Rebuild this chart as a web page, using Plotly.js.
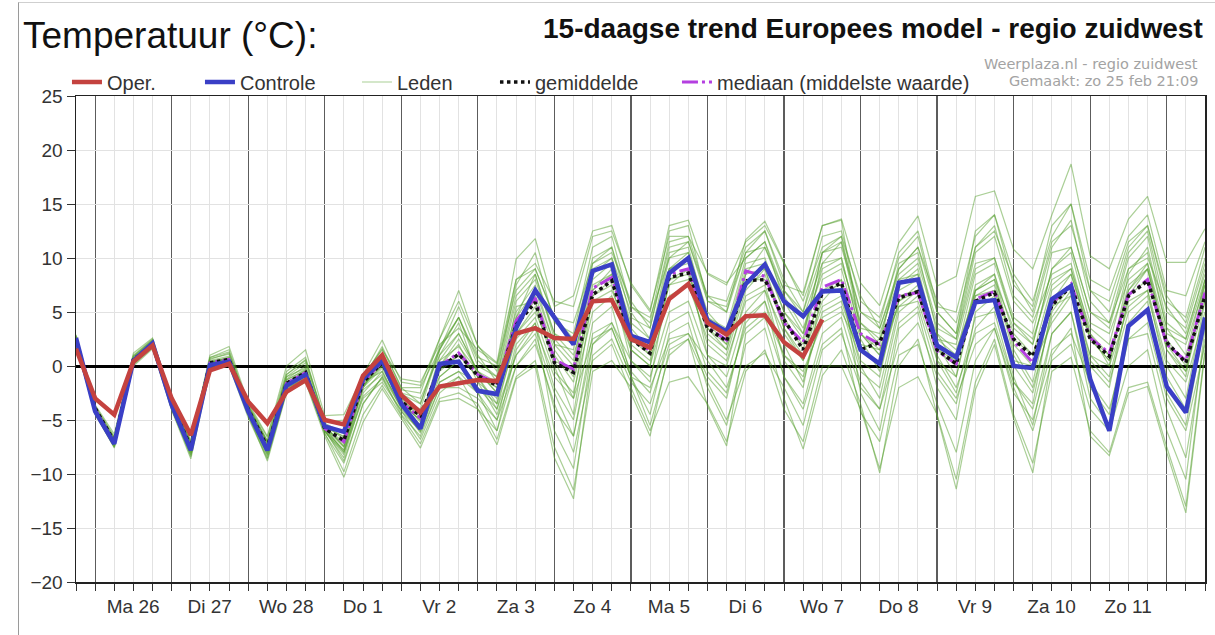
<!DOCTYPE html>
<html>
<head>
<meta charset="utf-8">
<script src="https://cdn.plot.ly/plotly-3.0.1.min.js"></script>
<style>
  body { margin: 0; background: #fff; }
  #chart { width: 1215px; height: 635px; }
  #kader { position: absolute; left: 18px; top: 2px; width: 1197px; height: 633px;
           border-left: 1px solid #9a9a9a; border-top: 1px solid #cfcfcf; pointer-events: none; }
</style>
</head>
<body>
<div id="chart"></div>
<div id="kader"></div>
<script>
// 15-daagse trend, run zo 25 feb 2018, waarden per 6 uur vanaf 25 feb 18:00
var start = "2018-02-25 18:00";
var eind = "2018-03-12 12:00";
var stap = 6 * 3600 * 1000; // 6 uur in ms

// dagscheidingen (00:00) met het label van die dag
var dagGrenzen = ["2018-02-26", "2018-02-27", "2018-02-28", "2018-03-01", "2018-03-02",
                  "2018-03-03", "2018-03-04", "2018-03-05", "2018-03-06", "2018-03-07",
                  "2018-03-08", "2018-03-09", "2018-03-10", "2018-03-11", "2018-03-12"];
var dagLabels = ["Ma 26", "Di 27", "Wo 28", "Do 1", "Vr 2", "Za 3", "Zo 4",
                 "Ma 5", "Di 6", "Wo 7", "Do 8", "Vr 9", "Za 10", "Zo 11", ""];

// operationele run (loopt tot wo 7 12:00)
var oper = [1.6, -3.0,-4.5,0.4,1.9, -3.0,-6.4,-0.4,0.2, -3.3,-5.3,-2.4,-1.3,
            -5.0,-5.4,-0.9,1.0, -2.7,-4.3,-1.9,-1.6, -1.3,-1.4,3.0,3.5, 2.6,2.5,6.0,6.1,
            2.5,1.7,6.2,7.6, 4.0,2.9,4.6,4.7, 2.2,0.9,4.3];

var controle = [2.6, -4.2,-7.2,0.5,2.1, -3.6,-7.8,0.1,0.4, -4.2,-7.8,-1.8,-0.8,
                -5.6,-6.1,-1.2,0.5, -3.5,-5.8,0.2,0.4, -2.3,-2.6,3.5,7.0, 4.5,2.0,8.8,9.4,
                2.8,2.2,8.6,10.0, 4.2,3.2,7.6,9.4, 6.0,4.6,6.9,7.0, 1.5,0.2,7.7,8.0,
                1.9,0.8,5.9,6.1, 0.0,-0.2,6.2,7.4, -1.2,-6.0,3.7,5.2, -1.9,-4.3,4.5];

var gemiddelde = [2.3, -3.9,-7.0,0.6,2.0, -3.5,-7.5,0.3,0.6, -4.0,-7.5,-1.6,-0.6,
                  -5.8,-6.9,-1.5,0.3, -3.3,-4.6,-0.2,1.1, -0.9,-1.8,3.8,5.9, 0.3,-0.6,6.6,7.9,
                  2.5,1.2,8.2,8.6, 3.5,2.3,7.9,8.0, 4.3,1.5,6.8,7.7, 1.5,2.2,6.3,6.9,
                  1.5,0.2,6.0,6.8, 2.5,0.9,5.6,7.4, 2.5,0.9,6.5,7.9, 2.2,0.3,6.5];

var mediaan = [2.4, -4.0,-7.1,0.5,2.1, -3.6,-7.6,0.3,0.6, -4.1,-7.6,-1.6,-0.6,
               -5.8,-7.0,-1.5,0.4, -3.4,-4.8,0.0,1.2, -0.8,-1.6,4.2,6.3, 0.6,-0.3,7.2,8.2,
               2.7,1.4,8.5,9.0, 3.6,2.4,8.8,8.3, 4.0,2.2,7.3,8.0, 3.0,2.0,6.5,6.8,
               1.4,0.2,6.2,6.9, 2.3,0.3,5.8,7.6, 2.6,1.2,6.6,8.0, 2.0,0.5,6.8];

// ensembleleden (geschat uit de bundel)
var leden = [
  [2.4, -3.8,-6.6,0.9,2.4, -3.2,-7.0,0.6,1.2, -3.7,-7.0,-0.8,0.6, -5.0,-5.5,-1.2,1.8, -2.0,-3.5,1.5,4.5, 0.5,-1.0,7.5,10.5, 4.0,3.0,11.0,12.0, 5.5,4.0,12.5,13.0, 6.0,5.5,10.5,12.5, 8.0,5.0,12.0,12.5, 6.0,4.5,10.0,12.0, 5.0,3.0,12.5,14.0, 8.5,6.0,12.0,15.0, 7.0,5.0,11.0,13.0, 6.5,4.0,10.0],
  [2.2, -4.4,-7.6,0.2,1.8, -3.9,-8.4,-0.3,0.2, -4.6,-8.5,-2.3,-1.2, -6.2,-9.8,-4.5,-1.8, -4.6,-7.2,-3.0,-2.5, -3.5,-6.8,-1.0,0.5, -7.5,-11.5,-0.5,0.5, -2.0,-6.0,-1.5,-1.0, -3.5,-7.0,-0.5,1.5, -4.0,-7.0,0.0,0.0, -4.0,-9.5,-2.0,-1.0, -4.5,-10.5,-1.5,2.5, -4.5,-9.0,-0.5,0.8, -6.0,-8.0,-2.0,-1.5, -7.5,-13.0,1.5],
  [2.3, -3.9,-7.0,0.6,2.0, -3.5,-7.5,0.3,0.7, -4.0,-7.4,-1.5,-0.5, -5.8,-7.0,-1.6,0.2, -3.2,-4.5,-0.3,1.0, -1.0,-2.0,4.0,6.0, 0.5,-0.5,6.5,8.0, 2.5,1.0,8.0,8.5, 3.5,2.0,8.0,8.0, 4.5,1.5,7.0,7.5, 1.5,2.5,6.5,7.0, 1.5,0.5,6.0,7.0, 2.5,1.0,5.5,7.5, 2.5,1.0,6.5,8.0, 2.0,0.5,6.5],
  [2.8, -4.0,-6.8,1.0,2.5, -3.3,-7.2,0.8,1.5, -3.6,-6.6,-0.5,0.8, -5.2,-5.0,-0.8,2.4, -1.5,-1.8,2.5,7.0, 1.8,0.3,9.9,11.8, 5.5,6.5,12.5,13.0, 7.5,5.0,13.0,13.5, 8.5,7.5,11.5,13.0, 9.5,6.5,13.0,13.5, 3.0,1.0,8.0,9.5, 3.5,2.5,9.5,10.0, 4.0,2.0,9.0,11.0, 5.0,3.5,10.0,12.0, 4.0,2.5,9.0],
  [2.5, -4.1,-7.1,0.5,2.2, -3.6,-7.7,0.2,0.5, -4.2,-7.9,-1.9,-0.6, -5.7,-6.5,-1.0,1.0, -2.5,-3.0,1.0,3.0, -0.5,-1.5,5.0,7.5, 2.0,1.5,9.5,11.0, 4.5,3.5,11.5,12.0, 6.5,6.0,11.0,12.5, 7.5,6.8,13.0,13.6, 7.7,5.6,11.4,13.9, 7.4,8.3,15.7,16.2, 10.8,9.0,14.0,18.7, 10.2,9.0,13.6,15.7, 9.6,9.6,12.7],
  [2.1, -4.3,-7.3,0.3,1.9, -3.8,-8.0,-0.1,0.3, -4.4,-8.2,-2.1,-1.0, -6.0,-8.5,-2.5,-0.5, -4.0,-6.0,-1.5,-0.5, -2.5,-5.0,2.0,4.0, -2.0,-5.0,4.0,5.5, -1.0,-4.5,3.0,4.0, -2.0,-5.5,2.0,3.5, -3.0,-7.7,-0.9,1.5, -3.5,-9.9,0.0,2.5, -4.6,-11.4,-2.2,2.0, -4.9,-9.9,1.0,3.5, -6.5,-8.3,-2.5,-1.9, -8.0,-13.6,1.2],
  [2.7, -3.7,-6.5,0.8,2.3, -3.4,-7.3,0.5,0.9, -3.8,-7.0,-1.2,0.0, -5.5,-7.5,-2.0,0.8, -3.0,-4.0,1.5,5.5, 1.0,-1.5,6.0,8.0, 3.0,1.0,7.0,9.0, 1.5,0.0,9.0,10.5, 5.0,3.0,8.5,11.0, 6.5,3.5,8.5,9.5, 4.0,2.0,9.5,10.5, 3.0,0.0,7.5,8.5, 1.5,-1.5,6.0,8.5, 3.0,0.0,8.5,11.0, 3.5,1.0,8.0],
  [2.0, -4.5,-7.5,0.0,1.6, -4.0,-8.2,0.0,0.2, -4.5,-8.8,-2.5,-1.5, -6.5,-10.3,-5.2,-2.1, -4.9,-7.6,-3.3,-3.0, -4.0,-7.3,-1.2,0.0, -8.5,-12.3,1.0,2.5, -1.5,-3.5,2.0,3.0, -1.0,-3.0,4.5,6.0, 1.0,-1.0,4.5,5.5, -0.5,-2.0,5.5,6.0, 0.5,-2.5,4.5,5.0, -1.5,-4.0,3.0,5.0, -3.0,-5.5,2.5,3.0, -4.0,-8.5,2.5],
  [2.4, -3.9,-6.9,0.7,2.1, -3.4,-7.6,0.2,0.6, -3.9,-7.2,-1.0,-0.2, -5.4,-6.8,-1.8,0.0, -3.5,-5.0,0.0,2.0, -1.5,-3.0,3.0,5.0, 1.0,-1.5,6.0,7.0, 3.0,2.0,10.0,10.5, 4.5,3.0,9.5,10.0, 5.0,2.5,10.5,11.5, 3.5,3.0,8.0,8.5, 0.5,-1.0,7.0,8.0, 1.0,-2.0,4.5,7.0, 0.0,-2.0,6.5,9.0, 1.5,-0.5,7.5],
  [2.6, -4.2,-7.2,0.4,2.0, -3.7,-7.9,0.2,0.4, -4.3,-7.7,-1.7,-0.9, -5.9,-7.8,-1.5,-0.5, -3.8,-5.5,0.5,1.8, -0.5,-2.5,4.5,8.5, 2.5,0.5,8.5,10.0, 3.5,1.5,7.5,8.0, 2.0,0.5,6.0,7.0, 3.0,0.5,5.5,6.5, 0.0,-3.0,5.0,6.5, 2.5,1.0,7.0,8.0, 3.5,2.0,9.0,10.5, 4.0,3.0,8.0,9.5, 3.0,2.0,7.5],
  [2.9, -3.6,-6.3,1.2,2.6, -3.1,-6.9,1.0,1.8, -3.4,-6.5,0.0,1.5, -4.6,-4.5,-0.9,1.5, -1.2,-1.5,2.0,3.5, 1.5,0.2,8.0,9.5, 6.0,5.5,12.0,12.5, 7.7,5.2,12.0,12.0, 8.6,7.7,10.0,11.5, 7.0,5.0,10.5,11.0, 5.0,3.5,9.0,11.0, 6.0,4.0,11.0,12.5, 8.0,5.0,11.5,13.0, 7.0,6.0,11.5,13.0, 6.0,4.5,11.0],
  [2.3, -4.3,-7.4,0.1,1.7, -4.1,-8.6,-0.4,0.0, -4.8,-8.6,-2.4,-1.4, -6.3,-9.0,-3.5,-1.0, -4.5,-6.5,-2.0,-1.0, -4.0,-6.0,0.0,2.5, -4.0,-6.5,3.0,4.0, 0.5,-1.0,5.0,6.0, 1.0,-1.0,5.0,7.0, 0.5,-2.0,7.0,8.0, -2.5,-6.0,3.5,5.0, -2.0,-5.0,5.0,6.5, -1.0,-5.5,3.0,5.0, -2.0,-4.5,4.0,6.0, -2.5,-5.5,4.0],
  [2.5, -4.0,-7.0,0.5,2.2, -3.5,-7.6,0.4,0.6, -4.1,-7.5,-1.5,-0.7, -5.6,-6.0,-1.2,0.6, -2.8,-4.2,-1.0,0.5, -2.0,-3.5,2.5,4.5, -0.5,-2.5,5.0,6.5, 1.5,0.0,6.5,7.5, 2.5,1.0,7.0,9.0, 3.5,1.0,6.0,8.0, 2.0,1.5,5.5,7.0, 3.0,1.5,6.5,7.0, 0.5,0.0,4.0,6.5, 1.0,0.0,5.5,7.0, 0.5,-1.5,5.0],
  [2.2, -4.1,-7.2,0.6,2.1, -3.6,-7.5,0.3,0.8, -4.0,-7.6,-1.6,-0.4, -5.8,-7.2,-2.2,-0.8, -3.5,-5.8,-1.5,-0.5, -1.5,-4.5,1.0,3.5, -1.0,-3.0,2.5,3.5, -1.0,-2.0,2.5,3.0, 0.5,-2.0,3.5,5.0, 1.0,-0.5,4.0,5.0, 1.5,0.0,6.0,7.0, 2.5,2.0,9.0,10.0, 4.5,3.0,10.5,11.0, 5.0,4.0,9.0,10.0, 5.5,3.0,8.5],
  [2.6, -3.8,-6.8,0.7,2.3, -3.3,-7.1,0.7,1.1, -3.7,-7.1,-1.0,0.3, -5.3,-6.2,-1.0,1.2, -2.2,-2.5,2.5,6.0, 1.9,-0.5,8.0,9.0, 4.5,4.0,9.5,10.5, 6.0,3.5,11.0,11.5, 6.5,5.0,11.7,13.4, 9.6,6.0,11.0,12.0, 6.5,3.5,8.5,10.0, 4.0,2.5,10.5,12.0, 6.0,4.0,8.5,9.5, 3.0,1.0,7.0,9.5, 2.0,-0.5,6.0],
  [2.4, -4.0,-7.1,0.5,2.0, -3.6,-7.7,0.2,0.5, -4.2,-7.8,-1.8,-0.8, -5.7,-8.0,-3.0,-1.5, -4.2,-6.8,-2.5,-1.0, -2.5,-6.0,1.5,4.0, -6.0,-9.5,2.0,3.5, -1.0,-5.5,1.0,2.5, -3.7,-7.4,3.0,4.5, -1.0,-4.0,2.0,3.5, -4.3,-7.0,1.0,2.0, -3.5,-8.0,0.5,3.5, -2.0,-6.0,0.5,2.0, -4.0,-6.0,0.0,1.5, -6.0,-10.5,3.5],
  [2.7, -3.9,-7.0,0.6,2.2, -3.5,-7.4,0.4,0.7, -3.9,-7.3,-1.3,-0.3, -5.6,-7.4,-1.4,0.4, -3.0,-4.8,0.5,3.0, -0.5,-2.0,4.5,7.0, 2.0,0.0,8.0,9.5, 4.0,2.5,9.0,10.0, 4.0,2.0,9.0,9.5, 5.0,3.0,9.0,10.0, 3.0,1.5,7.5,9.0, 2.0,1.0,8.5,9.5, 4.0,2.5,8.0,9.0, 3.5,2.0,9.0,10.5, 3.5,2.5,8.0],
  [2.0, -4.4,-7.5,0.3,1.9, -4.0,-8.3,-0.2,0.3, -4.5,-8.0,-2.0,-1.2, -6.1,-8.0,-2.0,-0.2, -3.5,-5.0,-0.5,1.0, -1.0,-4.0,3.0,5.5, 0.0,-4.5,6.5,7.5, 0.5,-1.5,8.0,9.0, 1.0,0.0,6.5,7.5, 2.0,-1.5,5.0,6.0, 0.5,-1.0,7.0,8.0, 1.0,-2.0,3.0,4.0, -1.5,-3.5,5.5,6.5, 0.5,-1.5,5.0,6.5, 0.0,-3.0,6.0],
  [2.5, -4.1,-7.1,0.4,2.0, -3.6,-7.8,0.1,0.4, -4.2,-7.7,-1.7,-0.7, -5.9,-8.8,-3.5,-1.0, -3.8,-6.2,-2.0,-2.0, -3.0,-5.0,0.0,2.0, -3.5,-8.0,0.5,2.0, -2.5,-6.5,1.5,2.5, -1.5,-5.0,0.0,1.2, -2.0,-5.5,1.5,3.0, -2.0,-4.0,2.0,4.0, -1.0,-3.5,3.5,5.5, 0.0,-2.5,5.0,7.5, 1.0,-1.0,6.0,7.0, -1.0,-4.0,4.0],
  [2.6, -4.0,-6.9,0.6,2.2, -3.6,-7.6,0.4,0.8, -4.0,-7.4,-1.3,-0.4, -5.5,-6.6,-1.3,0.9, -2.6,-3.5,1.8,4.5, 0.8,0.0,7.0,9.0, 4.5,2.5,10.0,11.0, 5.5,4.5,10.0,11.5, 6.0,5.0,10.5,11.0, 7.0,4.5,9.5,11.5, 5.0,4.0,10.5,12.5, 5.5,5.0,12.0,14.0, 7.5,5.5,13.0,15.0, 8.0,7.0,12.0,14.0, 7.0,6.5,11.5],
  [2.3, -4.2,-7.3,0.3,1.8, -3.8,-8.1,0.0,0.2, -4.4,-8.3,-2.2,-1.1, -6.0,-8.2,-2.0,0.5, -3.2,-5.2,1.0,4.0, -1.0,-3.5,5.5,6.0, 0.5,-3.0,7.5,8.5, 2.0,0.5,7.5,9.0, 3.0,1.5,7.5,8.5, 3.5,0.5,8.0,9.0, 2.5,-0.5,6.0,7.5, 2.0,-1.0,6.5,7.5, 2.0,0.0,7.0,8.5, 2.5,0.5,7.5,9.0, 1.5,-1.0,8.0],
  [2.8, -3.8,-6.7,0.9,2.4, -3.3,-7.1,0.8,1.3, -3.6,-6.9,-0.8,0.5, -5.1,-5.5,-1.0,1.6, -2.0,-2.0,1.5,4.5, 0.0,-1.0,6.5,8.5, 3.0,2.0,9.0,10.0, 5.0,2.5,10.5,11.0, 4.5,3.5,10.0,11.5, 6.0,3.0,10.5,12.0, 4.0,2.5,9.0,11.0, 5.0,3.0,11.0,13.0, 6.5,4.5,11.0,13.5, 6.0,4.0,10.5,12.5, 5.0,3.5,9.5],
  [2.1, -4.2,-7.4,0.2,1.8, -3.8,-8.0,0.0,0.3, -4.3,-8.1,-2.0,-1.0, -6.0,-7.8,-2.8,-1.2, -4.2,-6.0,-1.0,0.5, -2.0,-4.0,1.0,3.0, -2.5,-6.5,2.0,4.0, -0.5,-2.5,4.0,5.0, -0.5,-2.5,4.0,6.0, -1.0,-3.5,3.0,4.5, -1.5,-4.0,4.0,5.5, -0.5,-3.0,2.0,3.5, -2.5,-5.0,1.5,3.0, -1.5,-4.0,2.5,4.0, -3.0,-6.0,2.0],
  [2.5, -4.0,-7.0,0.5,2.1, -3.5,-7.5,0.3,0.6, -4.1,-7.6,-1.6,-0.6, -5.8,-7.5,-1.8,0.0, -3.5,-5.5,0.0,2.5, -0.5,-2.5,3.5,6.5, 1.5,-1.0,7.0,8.5, 3.0,1.0,9.0,9.5, 3.5,1.5,8.5,9.0, 4.0,2.0,9.5,10.0, 3.0,1.0,7.5,8.5, 1.5,0.0,7.0,8.5, 3.0,1.0,7.5,9.0, 2.5,0.5,7.0,9.0, 2.5,0.0,7.0]
];

var traces = [];
for (var i = 0; i < leden.length; i++) {
    traces.push({
        y: leden[i], x0: start, dx: stap,
        type: "scatter", mode: "lines",
        name: "Leden", legendgroup: "leden", showlegend: i === 0, legendrank: 3, legendwidth: 93,
        line: {color: "rgba(85,160,45,0.5)", width: 1.2}
    });
}
traces.push({
    y: mediaan, x0: start, dx: stap, type: "scatter", mode: "lines",
    name: "mediaan (middelste waarde)", legendrank: 5,
    line: {color: "#b43fe0", width: 3, dash: "16px,4px,3px,4px"}
});
traces.push({
    y: gemiddelde, x0: start, dx: stap, type: "scatter", mode: "lines",
    name: "gemiddelde", legendrank: 4, legendwidth: 137,
    line: {color: "#111111", width: 3.5, dash: "dot"}
});
traces.push({
    y: controle, x0: start, dx: stap, type: "scatter", mode: "lines",
    name: "Controle", legendrank: 2, legendwidth: 112,
    line: {color: "#3a3fc6", width: 4.5}
});
traces.push({
    y: oper, x0: start, dx: stap, type: "scatter", mode: "lines",
    name: "Oper.", legendrank: 1, legendwidth: 88,
    line: {color: "#c4423f", width: 4.5}
});

var layout = {
    width: 1215, height: 635,
    margin: {l: 76, r: 10, t: 96, b: 53},
    paper_bgcolor: "#ffffff", plot_bgcolor: "#ffffff",
    font: {family: "Liberation Sans, Arial, sans-serif", size: 19, color: "#333"},
    showlegend: true,
    legend: {
        orientation: "h", x: -0.008, xanchor: "left", y: 1.0288, yanchor: "middle",
        font: {size: 20, color: "#333"}, itemwidth: 30, bgcolor: "rgba(0,0,0,0)"
    },
    xaxis: {
        type: "date", range: [start, eind],
        tickmode: "array", tickvals: dagGrenzen, ticktext: dagLabels,
        ticklabelshift: 38,
        ticks: "outside", ticklen: 7, tickcolor: "#333",
        showgrid: true, gridcolor: "#5c5c5c", gridwidth: 1.2,
        showline: true, mirror: true, linecolor: "#222", linewidth: 1.5,
        zeroline: false,
        minor: {dtick: stap, tick0: start, ticks: "outside", ticklen: 7, tickcolor: "#333",
                showgrid: true, gridcolor: "#e2e2e2", gridwidth: 1}
    },
    yaxis: {
        range: [-20, 25], dtick: 5,
        ticks: "outside", ticklen: 8, tickcolor: "#333",
        showgrid: true, gridcolor: "#e2e2e2",
        zeroline: true, zerolinecolor: "#000", zerolinewidth: 3,
        showline: true, mirror: true, linecolor: "#222", linewidth: 1.5
    },
    annotations: [
        {text: "Temperatuur (°C):", xref: "paper", yref: "paper", x: -0.049, y: 1.1235,
         xanchor: "left", yanchor: "middle", showarrow: false,
         font: {size: 37, color: "#111"}},
        {text: "<b>15-daagse trend Europees model - regio zuidwest</b>", xref: "paper", yref: "paper",
         x: 1, y: 1.138, xanchor: "right", yanchor: "middle", showarrow: false,
         font: {size: 28, color: "#111"}},
        {text: "Weerplaza.nl - regio zuidwest", xref: "paper", yref: "paper",
         x: 0.9956, y: 1.0658, xanchor: "right", yanchor: "middle", showarrow: false,
         font: {family: "DejaVu Sans, Verdana, sans-serif", size: 14.5, color: "#a3a3a3"}},
        {text: "Gemaakt: zo 25 feb 21:09", xref: "paper", yref: "paper",
         x: 0.9956, y: 1.031, xanchor: "right", yanchor: "middle", showarrow: false,
         font: {family: "DejaVu Sans, Verdana, sans-serif", size: 14.5, color: "#a3a3a3"}}
    ]
};

Plotly.newPlot("chart", traces, layout, {staticPlot: true, displayModeBar: false});
</script>
</body>
</html>
